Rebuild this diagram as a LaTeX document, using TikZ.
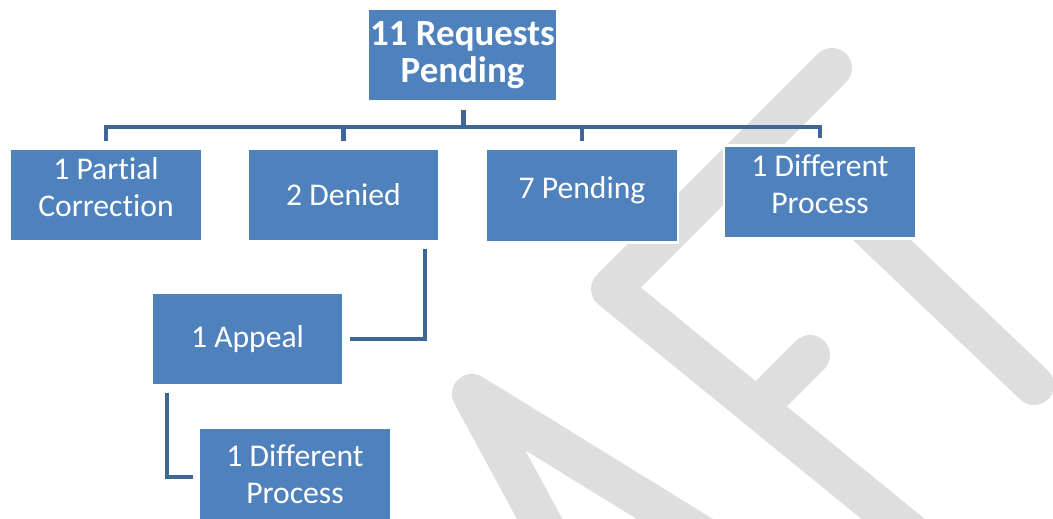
\documentclass[tikz,border=0pt]{standalone}
\usepackage{fontspec}
\setmainfont{Carlito}[Ligatures=NoCommon]
\usetikzlibrary{calc}
\definecolor{boxblue}{HTML}{4F81BD}
\definecolor{linkblue}{HTML}{3F6698}
\definecolor{markgray}{HTML}{DEDEDE}
\newcommand{\lift}{\rule[-9pt]{0pt}{0pt}}

\begin{document}
\begin{tikzpicture}[x=0.02cm,y=-0.02cm,
  box/.style={rectangle,fill=boxblue,draw=white,line width=1.5pt,text=white,
    minimum width=3.84cm,minimum height=1.87cm,inner sep=0pt,align=center,
    font=\fontsize{18}{21}\selectfont},
  link/.style={draw=linkblue,line width=0.09cm},
  wmark/.style={draw=markgray,line width=0.8cm,line cap=round,line join=round}]
  \useasboundingbox (0,0) rectangle (1053,519);
  \clip (0,0) rectangle (1053,519);
  % watermark
  \draw[wmark] (551,540) -- (472,394) -- (709,540);
  \draw[wmark] (832,68) -- (611,289) -- (919,540);
  \draw[wmark] (757,408) -- (810,355);
  \draw[wmark] (840,200) -- (1034,385);
  % boxes
  \node[box,font=\fontsize{21}{21}\selectfont\bfseries,minimum width=3.8cm]
    (root) at (462.5,55) {11 Requests\\Pending};
  \node[box] (partial) at (106,195) {1 Partial\\Correction\lift};
  \node[box] (denied)  at (343.5,195) {2 Denied};
  \node[box] (pending) at (582,195.5) {7 Pending\lift};
  \node[box] (diffa)   at (820,192) {1 Different\\Process\lift};
  \node[box] (appeal)  at (247.5,339) {1 Appeal};
  \node[box] (diffb)   at (295,474) {1 Different\\Process};
  % connectors
  \foreach \c in {partial,denied,pending,diffa}
    \draw[link] ($(root.south)+(1,7)$) -- ++(0,17) -| ($(\c.north)+(0,-6)$);
  \draw[link] ($(denied.south east)+(-16,6)$) |- ($(appeal.east)+(5,0)$);
  \draw[link] ($(appeal.south west)+(17,6)$) |- ($(diffb.west)+(-5,3)$);
\end{tikzpicture}
\end{document}
